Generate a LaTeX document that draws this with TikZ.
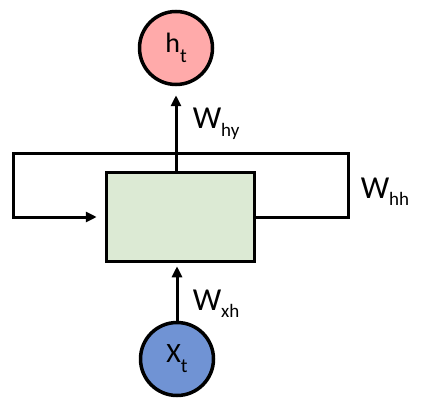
\documentclass[tikz,border=0pt]{standalone}
\usepackage{fontspec}
\setmainfont{Carlito}
\usepackage{tikz}
\usetikzlibrary{positioning,arrows.meta}
\definecolor{hFill}{RGB}{255,170,170}
\definecolor{xFill}{RGB}{112,147,212}
\definecolor{cellFill}{RGB}{220,234,212}
\newcommand{\wlab}[1]{W\raisebox{-7pt}{\fontsize{19}{19}\selectfont #1}}
\newcommand{\vlab}[2]{#1\raisebox{-10pt}{\fontsize{20}{20}\selectfont #2}}

\begin{document}
\begin{tikzpicture}[x=1pt,y=-1pt,line width=3.5pt,>={Triangle[length=11pt,width=10pt]},
  unit/.style={circle,draw=black,line width=3.5pt,minimum size=73pt,inner sep=0pt,font=\fontsize{28}{28}\selectfont},
  cellbox/.style={draw=black,line width=3.5pt,fill=cellFill,minimum width=148pt,minimum height=89pt,inner sep=0pt},
  wt/.style={anchor=base west,inner sep=0pt,font=\fontsize{32}{32}\selectfont},
  flow/.style={->,line width=3pt}]
\useasboundingbox (0,0) rectangle (422,414);
\node[cellbox] (cell) at (180.5,217) {};
\node[unit,fill=hFill] (ht) at (176,48)  {\vlab{h}{t}};
\node[unit,fill=xFill] (xt) at (177,359) {\vlab{X}{t}};
\draw[flow,shorten >=9pt] (cell.north -| ht) -- (ht.south);
\draw[flow,shorten >=3pt] (xt.north) -- (xt.north |- cell.south);
\draw[flow,shorten >=8pt] (cell.east) -| (348,153) -| (13,217) -- (cell.west);
\node[wt] (why) at (191,129) {\wlab{hy}};
\node[wt] (whh) at (359,198) {\wlab{hh}};
\node[wt] (wxh) at (191,310) {\wlab{xh}};
\end{tikzpicture}
\end{document}
